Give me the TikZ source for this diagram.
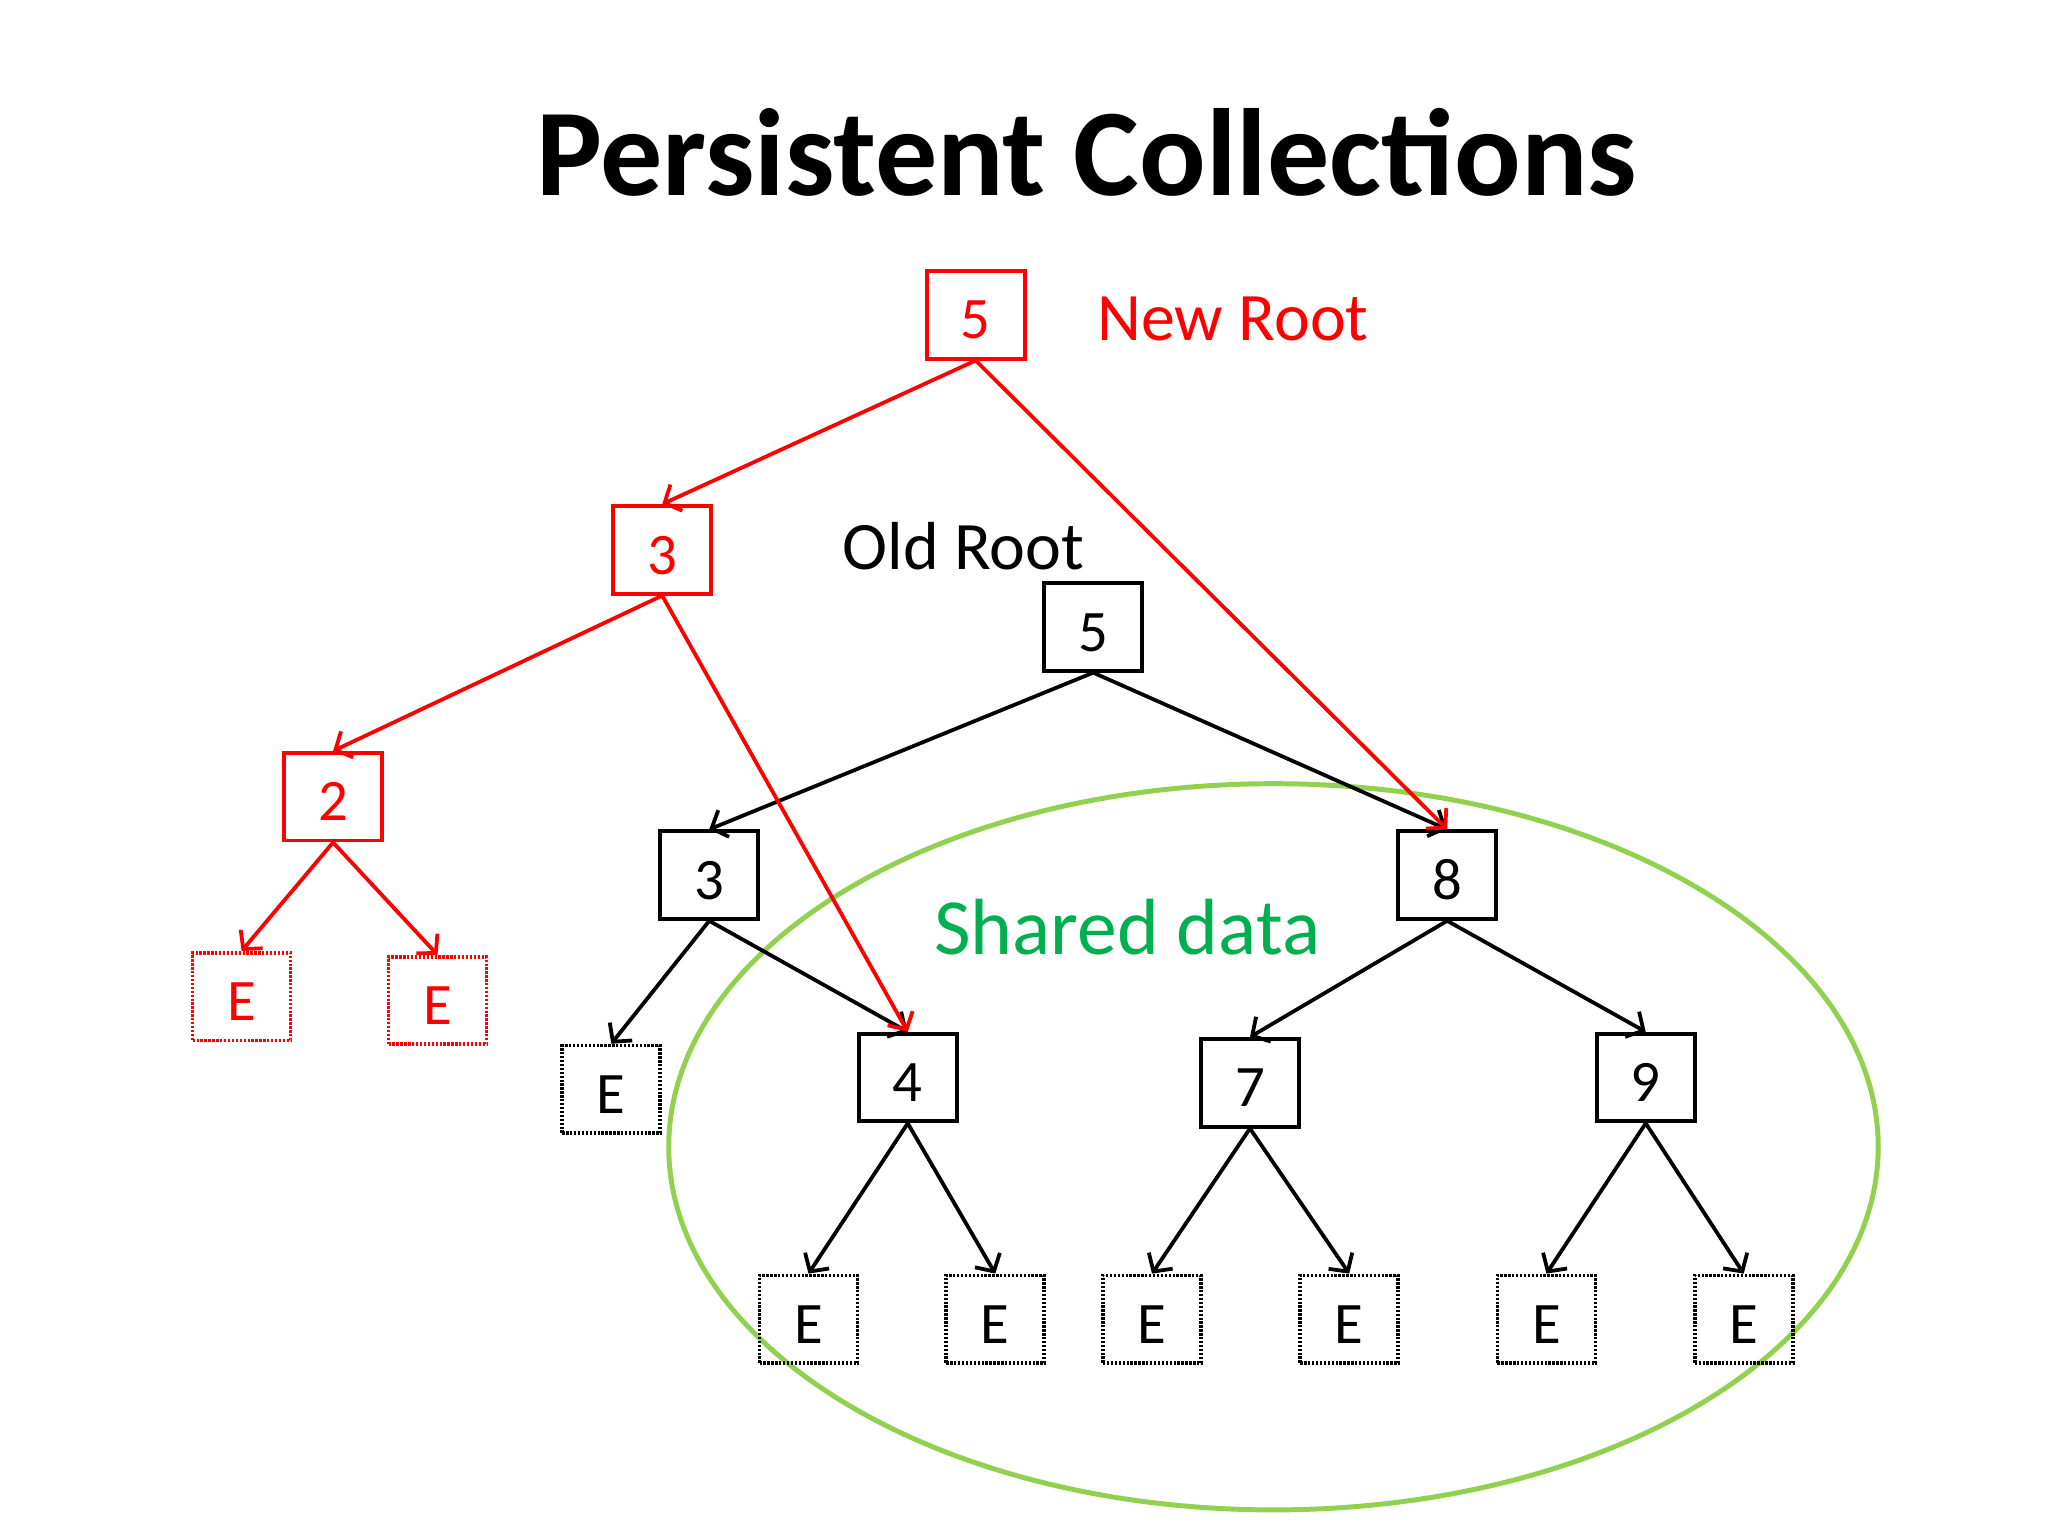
\documentclass[tikz,border=0pt]{standalone}
\usepackage{fontspec}
\setmainfont{Carlito}
\usetikzlibrary{arrows.meta}
\definecolor{myred}{RGB}{255,0,0}
\definecolor{mygreen}{RGB}{0,176,80}
\definecolor{ellgreen}{RGB}{146,208,80}
\begin{document}
\begin{tikzpicture}[x=1pt,y=-1pt,
  boxnode/.style={draw, line width=3pt, minimum width=75pt, minimum height=67pt, inner sep=0pt, text height=37pt, text depth=0pt, font=\fontsize{45}{45}\selectfont},
  rednode/.style={boxnode, draw=myred, text=myred},
  blknode/.style={boxnode, draw=black, text=black},
  dotbox/.style={dash pattern=on 1.8pt off 1.2pt, line width=2.8pt},
  conn/.style={line width=2.9pt, -{Straight Barb[length=10pt,width=22pt,line width=2.9pt]}},
  redconn/.style={conn, draw=myred},
  blkconn/.style={conn, draw=black},
  lbl/.style={anchor=base west, inner sep=0pt, font=\fontsize{52}{52}\selectfont}
]
\useasboundingbox (0,0) rectangle (1568,1176);
\fill[white] (0,0) rectangle (1568,1176);

% title
\node[anchor=base, inner sep=0pt, font=\fontsize{95}{95}\selectfont\bfseries] (title) at (832,150) {Persistent Collections};

% shared-data ellipse
\draw[ellgreen, line width=3.8pt] (975,878) ellipse [x radius=463, y radius=278];

% labels
\node[lbl, text=myred] (newroot) at (840,261) {New Root};
\node[lbl, text=black] (oldroot) at (645,436) {Old Root};
\node[lbl, text=mygreen, font=\fontsize{61}{61}\selectfont] (shared) at (715,731) {Shared data};

% new (red) nodes
\node[rednode] (nr5) at (747,241) {5};
\node[rednode] (r3) at (507,421) {3};
\node[rednode] (r2) at (255,610) {2};
\node[rednode, dotbox] (rE1) at (185,763) {E};
\node[rednode, dotbox] (rE2) at (335,766) {E};

% old (black) nodes
\node[blknode] (o5) at (837,480) {5};
\node[blknode] (b3) at (543,670) {3};
\node[blknode] (b8) at (1108,670) {8};
\node[blknode, dotbox] (bE) at (468,834) {E};
\node[blknode] (b4) at (695,825) {4};
\node[blknode] (b7) at (957,829) {7};
\node[blknode] (b9) at (1260,825) {9};
\node[blknode, dotbox] (e1) at (619,1010) {E};
\node[blknode, dotbox] (e2) at (762,1010) {E};
\node[blknode, dotbox] (e3) at (882,1010) {E};
\node[blknode, dotbox] (e4) at (1033,1010) {E};
\node[blknode, dotbox] (e5) at (1184,1010) {E};
\node[blknode, dotbox] (e6) at (1335,1010) {E};

% black connectors
\draw[blkconn] (o5.south) -- (b3.north);
\draw[blkconn] (o5.south) -- (b8.north);
\draw[blkconn] (b3.south) -- (bE.north);
\draw[blkconn] (b3.south) -- (b4.north);
\draw[blkconn] (b8.south) -- (b7.north);
\draw[blkconn] (b8.south) -- (b9.north);
\draw[blkconn] (b4.south) -- (e1.north);
\draw[blkconn] (b4.south) -- (e2.north);
\draw[blkconn] (b7.south) -- (e3.north);
\draw[blkconn] (b7.south) -- (e4.north);
\draw[blkconn] (b9.south) -- (e5.north);
\draw[blkconn] (b9.south) -- (e6.north);

% red connectors
\draw[redconn] (nr5.south) -- (r3.north);
\draw[redconn] (nr5.south) -- (b8.north);
\draw[redconn] (r3.south) -- (r2.north);
\draw[redconn] (r3.south) -- (b4.north);
\draw[redconn] (r2.south) -- (rE1.north);
\draw[redconn] (r2.south) -- (rE2.north);
\end{tikzpicture}
\end{document}
